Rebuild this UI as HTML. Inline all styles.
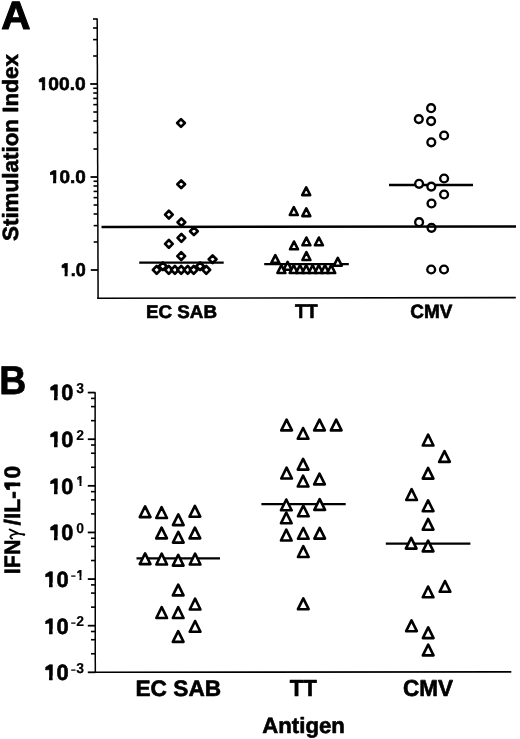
<!DOCTYPE html>
<html><head><meta charset="utf-8"><style>
html,body{margin:0;padding:0;background:#fff;}
body{width:520px;height:739px;overflow:hidden;}
svg{display:block;filter:grayscale(1);}
text{font-family:"Liberation Sans", sans-serif;font-weight:bold;fill:#000;stroke:#000;stroke-width:0.6px;stroke-linejoin:round;font-kerning:none;font-variant-ligatures:none;text-rendering:geometricPrecision;}
</style></head><body>
<svg width="520" height="739" viewBox="0 0 520 739">
<rect width="520" height="739" fill="#fff"/>
<line x1="97.20" y1="18.60" x2="98.10" y2="298.90" stroke="#000" stroke-width="1.5"/>
<line x1="97.30" y1="298.20" x2="515.80" y2="297.65" stroke="#000" stroke-width="1.6"/>
<line x1="90.81" y1="270.00" x2="98.01" y2="270.00" stroke="#000" stroke-width="1.8"/>
<line x1="93.72" y1="242.00" x2="97.92" y2="242.00" stroke="#000" stroke-width="1.6"/>
<line x1="93.67" y1="225.63" x2="97.87" y2="225.63" stroke="#000" stroke-width="1.6"/>
<line x1="93.63" y1="214.01" x2="97.83" y2="214.01" stroke="#000" stroke-width="1.6"/>
<line x1="93.60" y1="205.00" x2="97.80" y2="205.00" stroke="#000" stroke-width="1.6"/>
<line x1="93.58" y1="197.63" x2="97.78" y2="197.63" stroke="#000" stroke-width="1.6"/>
<line x1="93.56" y1="191.41" x2="97.76" y2="191.41" stroke="#000" stroke-width="1.6"/>
<line x1="93.54" y1="186.01" x2="97.74" y2="186.01" stroke="#000" stroke-width="1.6"/>
<line x1="93.52" y1="181.26" x2="97.72" y2="181.26" stroke="#000" stroke-width="1.6"/>
<line x1="90.51" y1="177.00" x2="97.71" y2="177.00" stroke="#000" stroke-width="1.8"/>
<line x1="93.42" y1="149.00" x2="97.62" y2="149.00" stroke="#000" stroke-width="1.6"/>
<line x1="93.37" y1="132.63" x2="97.57" y2="132.63" stroke="#000" stroke-width="1.6"/>
<line x1="93.33" y1="121.01" x2="97.53" y2="121.01" stroke="#000" stroke-width="1.6"/>
<line x1="93.30" y1="112.00" x2="97.50" y2="112.00" stroke="#000" stroke-width="1.6"/>
<line x1="93.28" y1="104.63" x2="97.48" y2="104.63" stroke="#000" stroke-width="1.6"/>
<line x1="93.26" y1="98.41" x2="97.46" y2="98.41" stroke="#000" stroke-width="1.6"/>
<line x1="93.24" y1="93.01" x2="97.44" y2="93.01" stroke="#000" stroke-width="1.6"/>
<line x1="93.23" y1="88.26" x2="97.43" y2="88.26" stroke="#000" stroke-width="1.6"/>
<line x1="90.21" y1="84.00" x2="97.41" y2="84.00" stroke="#000" stroke-width="1.8"/>
<line x1="93.12" y1="56.00" x2="97.32" y2="56.00" stroke="#000" stroke-width="1.6"/>
<line x1="93.07" y1="39.63" x2="97.27" y2="39.63" stroke="#000" stroke-width="1.6"/>
<line x1="93.03" y1="28.01" x2="97.23" y2="28.01" stroke="#000" stroke-width="1.6"/>
<line x1="93.00" y1="19.00" x2="97.20" y2="19.00" stroke="#000" stroke-width="1.6"/>
<g transform="matrix(1.0095 0 0 0.9590 37.689 90.422)"><text x="0" y="0" font-size="19" >100.0</text><path d="M-0.278 2.412H4.135V-3.896H-0.278Z M7.342 2.412H10.788V-3.896H7.342Z" fill="#fff"/><path d="M1.299 -8.897H4.546V-10.901Z" fill="#000" stroke="#000" stroke-width="0.6" stroke-linejoin="round"/></g>
<g transform="matrix(0.9942 0 0 0.9590 48.909 183.122)"><text x="0" y="0" font-size="19" >10.0</text><path d="M-0.278 2.412H4.135V-3.896H-0.278Z M7.342 2.412H10.788V-3.896H7.342Z" fill="#fff"/><path d="M1.299 -8.897H4.546V-10.901Z" fill="#000" stroke="#000" stroke-width="0.6" stroke-linejoin="round"/></g>
<g transform="matrix(0.9452 0 0 0.9738 60.672 276.319)"><text x="0" y="0" font-size="19" >1.0</text><path d="M-0.278 2.412H4.135V-3.896H-0.278Z M7.342 2.412H10.788V-3.896H7.342Z" fill="#fff"/><path d="M1.299 -8.897H4.546V-10.901Z" fill="#000" stroke="#000" stroke-width="0.6" stroke-linejoin="round"/></g>
<line x1="139.20" y1="262.60" x2="223.70" y2="262.60" stroke="#000" stroke-width="2.3"/>
<path d="M181.00 119.13 L184.87 123.00 L181.00 126.87 L177.13 123.00 Z" fill="#fff" stroke="#000" stroke-width="2.65" stroke-linejoin="round"/>
<path d="M181.20 180.33 L185.07 184.20 L181.20 188.07 L177.33 184.20 Z" fill="#fff" stroke="#000" stroke-width="2.65" stroke-linejoin="round"/>
<path d="M168.90 210.73 L172.77 214.60 L168.90 218.47 L165.03 214.60 Z" fill="#fff" stroke="#000" stroke-width="2.65" stroke-linejoin="round"/>
<path d="M181.40 218.43 L185.27 222.30 L181.40 226.17 L177.53 222.30 Z" fill="#fff" stroke="#000" stroke-width="2.65" stroke-linejoin="round"/>
<path d="M193.90 227.33 L197.77 231.20 L193.90 235.07 L190.03 231.20 Z" fill="#fff" stroke="#000" stroke-width="2.65" stroke-linejoin="round"/>
<path d="M181.40 234.03 L185.27 237.90 L181.40 241.77 L177.53 237.90 Z" fill="#fff" stroke="#000" stroke-width="2.65" stroke-linejoin="round"/>
<path d="M168.90 240.03 L172.77 243.90 L168.90 247.77 L165.03 243.90 Z" fill="#fff" stroke="#000" stroke-width="2.65" stroke-linejoin="round"/>
<path d="M181.20 252.23 L185.07 256.10 L181.20 259.97 L177.33 256.10 Z" fill="#fff" stroke="#000" stroke-width="2.65" stroke-linejoin="round"/>
<path d="M212.60 255.33 L216.47 259.20 L212.60 263.07 L208.73 259.20 Z" fill="#fff" stroke="#000" stroke-width="2.65" stroke-linejoin="round"/>
<path d="M162.80 262.33 L166.67 266.20 L162.80 270.07 L158.93 266.20 Z" fill="#fff" stroke="#000" stroke-width="2.65" stroke-linejoin="round"/>
<path d="M200.10 262.33 L203.97 266.20 L200.10 270.07 L196.23 266.20 Z" fill="#fff" stroke="#000" stroke-width="2.65" stroke-linejoin="round"/>
<path d="M156.70 266.03 L160.57 269.90 L156.70 273.77 L152.83 269.90 Z" fill="#fff" stroke="#000" stroke-width="2.65" stroke-linejoin="round"/>
<path d="M168.80 266.03 L172.67 269.90 L168.80 273.77 L164.93 269.90 Z" fill="#fff" stroke="#000" stroke-width="2.65" stroke-linejoin="round"/>
<path d="M174.90 266.03 L178.77 269.90 L174.90 273.77 L171.03 269.90 Z" fill="#fff" stroke="#000" stroke-width="2.65" stroke-linejoin="round"/>
<path d="M181.20 266.03 L185.07 269.90 L181.20 273.77 L177.33 269.90 Z" fill="#fff" stroke="#000" stroke-width="2.65" stroke-linejoin="round"/>
<path d="M187.70 266.03 L191.57 269.90 L187.70 273.77 L183.83 269.90 Z" fill="#fff" stroke="#000" stroke-width="2.65" stroke-linejoin="round"/>
<path d="M193.70 266.03 L197.57 269.90 L193.70 273.77 L189.83 269.90 Z" fill="#fff" stroke="#000" stroke-width="2.65" stroke-linejoin="round"/>
<path d="M206.30 266.03 L210.17 269.90 L206.30 273.77 L202.43 269.90 Z" fill="#fff" stroke="#000" stroke-width="2.65" stroke-linejoin="round"/>
<line x1="264.20" y1="264.20" x2="348.80" y2="264.20" stroke="#000" stroke-width="2.3"/>
<path d="M306.20 187.30 L310.20 195.10 L302.20 195.10 Z" fill="#fff" stroke="#000" stroke-width="2.6" stroke-linejoin="round"/>
<path d="M293.80 207.20 L297.80 215.00 L289.80 215.00 Z" fill="#fff" stroke="#000" stroke-width="2.6" stroke-linejoin="round"/>
<path d="M306.30 208.30 L310.30 216.10 L302.30 216.10 Z" fill="#fff" stroke="#000" stroke-width="2.6" stroke-linejoin="round"/>
<path d="M294.00 241.50 L298.00 249.30 L290.00 249.30 Z" fill="#fff" stroke="#000" stroke-width="2.6" stroke-linejoin="round"/>
<path d="M306.40 237.50 L310.40 245.30 L302.40 245.30 Z" fill="#fff" stroke="#000" stroke-width="2.6" stroke-linejoin="round"/>
<path d="M318.90 237.50 L322.90 245.30 L314.90 245.30 Z" fill="#fff" stroke="#000" stroke-width="2.6" stroke-linejoin="round"/>
<path d="M306.40 252.20 L310.40 260.00 L302.40 260.00 Z" fill="#fff" stroke="#000" stroke-width="2.6" stroke-linejoin="round"/>
<path d="M275.30 255.10 L279.30 262.90 L271.30 262.90 Z" fill="#fff" stroke="#000" stroke-width="2.6" stroke-linejoin="round"/>
<path d="M337.80 257.90 L341.80 265.70 L333.80 265.70 Z" fill="#fff" stroke="#000" stroke-width="2.6" stroke-linejoin="round"/>
<path d="M287.60 261.90 L291.60 269.70 L283.60 269.70 Z" fill="#fff" stroke="#000" stroke-width="2.6" stroke-linejoin="round"/>
<path d="M281.40 265.20 L285.40 273.00 L277.40 273.00 Z" fill="#fff" stroke="#000" stroke-width="2.6" stroke-linejoin="round"/>
<path d="M293.70 265.20 L297.70 273.00 L289.70 273.00 Z" fill="#fff" stroke="#000" stroke-width="2.6" stroke-linejoin="round"/>
<path d="M300.00 265.20 L304.00 273.00 L296.00 273.00 Z" fill="#fff" stroke="#000" stroke-width="2.6" stroke-linejoin="round"/>
<path d="M306.20 265.20 L310.20 273.00 L302.20 273.00 Z" fill="#fff" stroke="#000" stroke-width="2.6" stroke-linejoin="round"/>
<path d="M312.60 265.20 L316.60 273.00 L308.60 273.00 Z" fill="#fff" stroke="#000" stroke-width="2.6" stroke-linejoin="round"/>
<path d="M318.80 265.20 L322.80 273.00 L314.80 273.00 Z" fill="#fff" stroke="#000" stroke-width="2.6" stroke-linejoin="round"/>
<path d="M325.00 265.20 L329.00 273.00 L321.00 273.00 Z" fill="#fff" stroke="#000" stroke-width="2.6" stroke-linejoin="round"/>
<path d="M331.20 265.20 L335.20 273.00 L327.20 273.00 Z" fill="#fff" stroke="#000" stroke-width="2.6" stroke-linejoin="round"/>
<line x1="389.00" y1="185.00" x2="473.00" y2="185.00" stroke="#000" stroke-width="2.3"/>
<circle cx="431.10" cy="108.20" r="3.90" fill="#fff" stroke="#000" stroke-width="2.40"/>
<circle cx="418.80" cy="119.10" r="3.90" fill="#fff" stroke="#000" stroke-width="2.40"/>
<circle cx="431.10" cy="121.10" r="3.90" fill="#fff" stroke="#000" stroke-width="2.40"/>
<circle cx="444.10" cy="135.50" r="3.90" fill="#fff" stroke="#000" stroke-width="2.40"/>
<circle cx="431.30" cy="142.30" r="3.90" fill="#fff" stroke="#000" stroke-width="2.40"/>
<circle cx="444.10" cy="178.50" r="3.90" fill="#fff" stroke="#000" stroke-width="2.40"/>
<circle cx="419.10" cy="183.80" r="3.90" fill="#fff" stroke="#000" stroke-width="2.40"/>
<circle cx="431.30" cy="186.60" r="3.90" fill="#fff" stroke="#000" stroke-width="2.40"/>
<circle cx="444.10" cy="194.50" r="3.90" fill="#fff" stroke="#000" stroke-width="2.40"/>
<circle cx="431.50" cy="203.50" r="3.90" fill="#fff" stroke="#000" stroke-width="2.40"/>
<circle cx="419.10" cy="222.20" r="3.90" fill="#fff" stroke="#000" stroke-width="2.40"/>
<circle cx="431.50" cy="227.80" r="3.90" fill="#fff" stroke="#000" stroke-width="2.40"/>
<circle cx="431.20" cy="269.50" r="3.90" fill="#fff" stroke="#000" stroke-width="2.40"/>
<circle cx="444.00" cy="269.50" r="3.90" fill="#fff" stroke="#000" stroke-width="2.40"/>
<line x1="101.50" y1="226.95" x2="516.00" y2="226.45" stroke="#000" stroke-width="2.4"/>
<g transform="matrix(1.0456 0 0 1.0201 145.941 317.821)"><text x="0" y="0" font-size="18" >EC SAB</text></g>
<g transform="matrix(1.0373 0 0 1.0821 294.890 318.200)"><text x="0" y="0" font-size="18" >TT</text></g>
<g transform="matrix(1.0527 0 0 1.0672 410.323 317.912)"><text x="0" y="0" font-size="18" >CMV</text></g>
<g transform="matrix(1.0136 0 0 0.9884 1.240 28.650)"><text x="0" y="0" font-size="40"  style="stroke-width:1.1px">A</text></g>
<g transform="translate(18.450 241.046) rotate(-90) scale(1.0194 1.0009)"><text x="0" y="0" font-size="22">Stimulation Index</text></g>
<line x1="95.10" y1="392.19" x2="95.30" y2="672.81" stroke="#000" stroke-width="1.5"/>
<line x1="94.60" y1="672.31" x2="511.30" y2="671.91" stroke="#000" stroke-width="1.6"/>
<line x1="87.80" y1="672.31" x2="95.20" y2="672.31" stroke="#000" stroke-width="1.8"/>
<line x1="91.00" y1="653.76" x2="95.20" y2="653.76" stroke="#000" stroke-width="1.6"/>
<line x1="91.00" y1="639.72" x2="95.20" y2="639.72" stroke="#000" stroke-width="1.6"/>
<line x1="91.00" y1="631.51" x2="95.20" y2="631.51" stroke="#000" stroke-width="1.6"/>
<line x1="87.80" y1="625.69" x2="95.20" y2="625.69" stroke="#000" stroke-width="1.8"/>
<line x1="91.00" y1="607.14" x2="95.20" y2="607.14" stroke="#000" stroke-width="1.6"/>
<line x1="91.00" y1="593.10" x2="95.20" y2="593.10" stroke="#000" stroke-width="1.6"/>
<line x1="91.00" y1="584.89" x2="95.20" y2="584.89" stroke="#000" stroke-width="1.6"/>
<line x1="87.80" y1="579.07" x2="95.20" y2="579.07" stroke="#000" stroke-width="1.8"/>
<line x1="91.00" y1="560.52" x2="95.20" y2="560.52" stroke="#000" stroke-width="1.6"/>
<line x1="91.00" y1="546.48" x2="95.20" y2="546.48" stroke="#000" stroke-width="1.6"/>
<line x1="91.00" y1="538.27" x2="95.20" y2="538.27" stroke="#000" stroke-width="1.6"/>
<line x1="87.80" y1="532.45" x2="95.20" y2="532.45" stroke="#000" stroke-width="1.8"/>
<line x1="91.00" y1="513.90" x2="95.20" y2="513.90" stroke="#000" stroke-width="1.6"/>
<line x1="91.00" y1="499.86" x2="95.20" y2="499.86" stroke="#000" stroke-width="1.6"/>
<line x1="91.00" y1="491.65" x2="95.20" y2="491.65" stroke="#000" stroke-width="1.6"/>
<line x1="87.80" y1="485.83" x2="95.20" y2="485.83" stroke="#000" stroke-width="1.8"/>
<line x1="91.00" y1="467.28" x2="95.20" y2="467.28" stroke="#000" stroke-width="1.6"/>
<line x1="91.00" y1="453.24" x2="95.20" y2="453.24" stroke="#000" stroke-width="1.6"/>
<line x1="91.00" y1="445.03" x2="95.20" y2="445.03" stroke="#000" stroke-width="1.6"/>
<line x1="87.80" y1="439.21" x2="95.20" y2="439.21" stroke="#000" stroke-width="1.8"/>
<line x1="91.00" y1="420.66" x2="95.20" y2="420.66" stroke="#000" stroke-width="1.6"/>
<line x1="91.00" y1="406.62" x2="95.20" y2="406.62" stroke="#000" stroke-width="1.6"/>
<line x1="91.00" y1="398.41" x2="95.20" y2="398.41" stroke="#000" stroke-width="1.6"/>
<line x1="87.80" y1="392.59" x2="95.20" y2="392.59" stroke="#000" stroke-width="1.8"/>
<g transform="matrix(0.9971 0 0 1.0015 44.200 680.145)"><text x="0" y="0" font-size="22" >10</text><path d="M-0.322 2.793H4.835V-4.512H-0.322Z M8.453 2.793H12.373V-4.512H8.453Z" fill="#fff"/><path d="M1.504 -10.302H5.264V-12.622Z" fill="#000" stroke="#000" stroke-width="0.6" stroke-linejoin="round"/></g>
<g transform="matrix(1.0000 0 0 1.0278 76.246 672.760)"><text x="0" y="0" font-size="14" style="stroke-width:0.15px">3</text></g>
<g transform="matrix(1.0127 0 0 0.5396 70.946 671.519)"><text x="0" y="0" font-size="14" >-</text></g>
<g transform="matrix(0.9971 0 0 1.0015 44.200 633.525)"><text x="0" y="0" font-size="22" >10</text><path d="M-0.322 2.793H4.835V-4.512H-0.322Z M8.453 2.793H12.373V-4.512H8.453Z" fill="#fff"/><path d="M1.504 -10.302H5.264V-12.622Z" fill="#000" stroke="#000" stroke-width="0.6" stroke-linejoin="round"/></g>
<g transform="matrix(1.0000 0 0 1.0278 76.246 626.140)"><text x="0" y="0" font-size="14" style="stroke-width:0.15px">2</text></g>
<g transform="matrix(1.0127 0 0 0.5396 70.946 624.899)"><text x="0" y="0" font-size="14" >-</text></g>
<g transform="matrix(0.9971 0 0 1.0015 44.200 586.905)"><text x="0" y="0" font-size="22" >10</text><path d="M-0.322 2.793H4.835V-4.512H-0.322Z M8.453 2.793H12.373V-4.512H8.453Z" fill="#fff"/><path d="M1.504 -10.302H5.264V-12.622Z" fill="#000" stroke="#000" stroke-width="0.6" stroke-linejoin="round"/></g>
<g transform="matrix(1.0000 0 0 1.0278 76.246 579.520)"><text x="0" y="0" font-size="14" style="stroke-width:0.15px">1</text><path d="M-0.205 1.777H3.193V-2.871H-0.205Z M5.263 1.777H7.921V-2.871H5.263Z" fill="#fff"/><path d="M0.957 -6.556H3.350V-8.032Z" fill="#000" stroke="#000" stroke-width="0.15" stroke-linejoin="round"/></g>
<g transform="matrix(1.0127 0 0 0.5396 70.946 578.279)"><text x="0" y="0" font-size="14" >-</text></g>
<g transform="matrix(0.9880 0 0 1.0015 49.214 540.285)"><text x="0" y="0" font-size="22" >10</text><path d="M-0.322 2.793H4.835V-4.512H-0.322Z M8.453 2.793H12.373V-4.512H8.453Z" fill="#fff"/><path d="M1.504 -10.302H5.264V-12.622Z" fill="#000" stroke="#000" stroke-width="0.6" stroke-linejoin="round"/></g>
<g transform="matrix(1.0000 0 0 1.0278 76.246 532.900)"><text x="0" y="0" font-size="14" style="stroke-width:0.15px">0</text></g>
<g transform="matrix(0.9880 0 0 1.0015 49.214 493.665)"><text x="0" y="0" font-size="22" >10</text><path d="M-0.322 2.793H4.835V-4.512H-0.322Z M8.453 2.793H12.373V-4.512H8.453Z" fill="#fff"/><path d="M1.504 -10.302H5.264V-12.622Z" fill="#000" stroke="#000" stroke-width="0.6" stroke-linejoin="round"/></g>
<g transform="matrix(1.0000 0 0 1.0278 76.246 486.280)"><text x="0" y="0" font-size="14" style="stroke-width:0.15px">1</text><path d="M-0.205 1.777H3.193V-2.871H-0.205Z M5.263 1.777H7.921V-2.871H5.263Z" fill="#fff"/><path d="M0.957 -6.556H3.350V-8.032Z" fill="#000" stroke="#000" stroke-width="0.15" stroke-linejoin="round"/></g>
<g transform="matrix(0.9880 0 0 1.0015 49.214 447.045)"><text x="0" y="0" font-size="22" >10</text><path d="M-0.322 2.793H4.835V-4.512H-0.322Z M8.453 2.793H12.373V-4.512H8.453Z" fill="#fff"/><path d="M1.504 -10.302H5.264V-12.622Z" fill="#000" stroke="#000" stroke-width="0.6" stroke-linejoin="round"/></g>
<g transform="matrix(1.0000 0 0 1.0278 76.246 439.660)"><text x="0" y="0" font-size="14" style="stroke-width:0.15px">2</text></g>
<g transform="matrix(0.9880 0 0 1.0015 49.214 400.425)"><text x="0" y="0" font-size="22" >10</text><path d="M-0.322 2.793H4.835V-4.512H-0.322Z M8.453 2.793H12.373V-4.512H8.453Z" fill="#fff"/><path d="M1.504 -10.302H5.264V-12.622Z" fill="#000" stroke="#000" stroke-width="0.6" stroke-linejoin="round"/></g>
<g transform="matrix(1.0000 0 0 1.0278 76.246 393.040)"><text x="0" y="0" font-size="14" style="stroke-width:0.15px">3</text></g>
<line x1="136.50" y1="558.40" x2="220.00" y2="558.40" stroke="#000" stroke-width="2.3"/>
<path d="M145.10 506.30 L150.45 517.10 L139.75 517.10 Z" fill="#fff" stroke="#000" stroke-width="2.6" stroke-linejoin="round"/>
<path d="M161.60 507.20 L166.95 518.00 L156.25 518.00 Z" fill="#fff" stroke="#000" stroke-width="2.6" stroke-linejoin="round"/>
<path d="M194.90 505.90 L200.25 516.70 L189.55 516.70 Z" fill="#fff" stroke="#000" stroke-width="2.6" stroke-linejoin="round"/>
<path d="M178.30 514.30 L183.65 525.10 L172.95 525.10 Z" fill="#fff" stroke="#000" stroke-width="2.6" stroke-linejoin="round"/>
<path d="M161.60 527.60 L166.95 538.40 L156.25 538.40 Z" fill="#fff" stroke="#000" stroke-width="2.6" stroke-linejoin="round"/>
<path d="M178.30 531.80 L183.65 542.60 L172.95 542.60 Z" fill="#fff" stroke="#000" stroke-width="2.6" stroke-linejoin="round"/>
<path d="M194.90 527.60 L200.25 538.40 L189.55 538.40 Z" fill="#fff" stroke="#000" stroke-width="2.6" stroke-linejoin="round"/>
<path d="M145.10 553.30 L150.45 564.10 L139.75 564.10 Z" fill="#fff" stroke="#000" stroke-width="2.6" stroke-linejoin="round"/>
<path d="M161.70 553.70 L167.05 564.50 L156.35 564.50 Z" fill="#fff" stroke="#000" stroke-width="2.6" stroke-linejoin="round"/>
<path d="M178.20 554.80 L183.55 565.60 L172.85 565.60 Z" fill="#fff" stroke="#000" stroke-width="2.6" stroke-linejoin="round"/>
<path d="M195.10 553.70 L200.45 564.50 L189.75 564.50 Z" fill="#fff" stroke="#000" stroke-width="2.6" stroke-linejoin="round"/>
<path d="M178.20 584.60 L183.55 595.40 L172.85 595.40 Z" fill="#fff" stroke="#000" stroke-width="2.6" stroke-linejoin="round"/>
<path d="M195.10 598.70 L200.45 609.50 L189.75 609.50 Z" fill="#fff" stroke="#000" stroke-width="2.6" stroke-linejoin="round"/>
<path d="M161.70 607.20 L167.05 618.00 L156.35 618.00 Z" fill="#fff" stroke="#000" stroke-width="2.6" stroke-linejoin="round"/>
<path d="M178.20 607.20 L183.55 618.00 L172.85 618.00 Z" fill="#fff" stroke="#000" stroke-width="2.6" stroke-linejoin="round"/>
<path d="M195.10 621.00 L200.45 631.80 L189.75 631.80 Z" fill="#fff" stroke="#000" stroke-width="2.6" stroke-linejoin="round"/>
<path d="M178.20 631.10 L183.55 641.90 L172.85 641.90 Z" fill="#fff" stroke="#000" stroke-width="2.6" stroke-linejoin="round"/>
<line x1="261.40" y1="504.20" x2="345.70" y2="504.20" stroke="#000" stroke-width="2.3"/>
<path d="M286.60 419.60 L291.95 430.40 L281.25 430.40 Z" fill="#fff" stroke="#000" stroke-width="2.6" stroke-linejoin="round"/>
<path d="M303.10 428.00 L308.45 438.80 L297.75 438.80 Z" fill="#fff" stroke="#000" stroke-width="2.6" stroke-linejoin="round"/>
<path d="M319.50 419.60 L324.85 430.40 L314.15 430.40 Z" fill="#fff" stroke="#000" stroke-width="2.6" stroke-linejoin="round"/>
<path d="M336.20 419.60 L341.55 430.40 L330.85 430.40 Z" fill="#fff" stroke="#000" stroke-width="2.6" stroke-linejoin="round"/>
<path d="M303.10 458.80 L308.45 469.60 L297.75 469.60 Z" fill="#fff" stroke="#000" stroke-width="2.6" stroke-linejoin="round"/>
<path d="M286.60 467.70 L291.95 478.50 L281.25 478.50 Z" fill="#fff" stroke="#000" stroke-width="2.6" stroke-linejoin="round"/>
<path d="M303.10 475.70 L308.45 486.50 L297.75 486.50 Z" fill="#fff" stroke="#000" stroke-width="2.6" stroke-linejoin="round"/>
<path d="M319.50 473.60 L324.85 484.40 L314.15 484.40 Z" fill="#fff" stroke="#000" stroke-width="2.6" stroke-linejoin="round"/>
<path d="M286.30 499.50 L291.65 510.30 L280.95 510.30 Z" fill="#fff" stroke="#000" stroke-width="2.6" stroke-linejoin="round"/>
<path d="M303.30 505.50 L308.65 516.30 L297.95 516.30 Z" fill="#fff" stroke="#000" stroke-width="2.6" stroke-linejoin="round"/>
<path d="M319.70 499.10 L325.05 509.90 L314.35 509.90 Z" fill="#fff" stroke="#000" stroke-width="2.6" stroke-linejoin="round"/>
<path d="M286.30 512.50 L291.65 523.30 L280.95 523.30 Z" fill="#fff" stroke="#000" stroke-width="2.6" stroke-linejoin="round"/>
<path d="M286.30 529.70 L291.65 540.50 L280.95 540.50 Z" fill="#fff" stroke="#000" stroke-width="2.6" stroke-linejoin="round"/>
<path d="M303.30 528.00 L308.65 538.80 L297.95 538.80 Z" fill="#fff" stroke="#000" stroke-width="2.6" stroke-linejoin="round"/>
<path d="M319.70 527.80 L325.05 538.60 L314.35 538.60 Z" fill="#fff" stroke="#000" stroke-width="2.6" stroke-linejoin="round"/>
<path d="M303.30 546.20 L308.65 557.00 L297.95 557.00 Z" fill="#fff" stroke="#000" stroke-width="2.6" stroke-linejoin="round"/>
<path d="M303.30 598.40 L308.65 609.20 L297.95 609.20 Z" fill="#fff" stroke="#000" stroke-width="2.6" stroke-linejoin="round"/>
<line x1="385.80" y1="543.70" x2="470.40" y2="543.70" stroke="#000" stroke-width="2.3"/>
<path d="M428.10 434.70 L433.45 445.50 L422.75 445.50 Z" fill="#fff" stroke="#000" stroke-width="2.6" stroke-linejoin="round"/>
<path d="M444.50 451.10 L449.85 461.90 L439.15 461.90 Z" fill="#fff" stroke="#000" stroke-width="2.6" stroke-linejoin="round"/>
<path d="M428.10 467.80 L433.45 478.60 L422.75 478.60 Z" fill="#fff" stroke="#000" stroke-width="2.6" stroke-linejoin="round"/>
<path d="M411.60 489.20 L416.95 500.00 L406.25 500.00 Z" fill="#fff" stroke="#000" stroke-width="2.6" stroke-linejoin="round"/>
<path d="M428.10 500.40 L433.45 511.20 L422.75 511.20 Z" fill="#fff" stroke="#000" stroke-width="2.6" stroke-linejoin="round"/>
<path d="M428.10 518.90 L433.45 529.70 L422.75 529.70 Z" fill="#fff" stroke="#000" stroke-width="2.6" stroke-linejoin="round"/>
<path d="M411.20 537.80 L416.55 548.60 L405.85 548.60 Z" fill="#fff" stroke="#000" stroke-width="2.6" stroke-linejoin="round"/>
<path d="M428.10 540.60 L433.45 551.40 L422.75 551.40 Z" fill="#fff" stroke="#000" stroke-width="2.6" stroke-linejoin="round"/>
<path d="M445.00 581.00 L450.35 591.80 L439.65 591.80 Z" fill="#fff" stroke="#000" stroke-width="2.6" stroke-linejoin="round"/>
<path d="M428.10 586.50 L433.45 597.30 L422.75 597.30 Z" fill="#fff" stroke="#000" stroke-width="2.6" stroke-linejoin="round"/>
<path d="M411.50 620.40 L416.85 631.20 L406.15 631.20 Z" fill="#fff" stroke="#000" stroke-width="2.6" stroke-linejoin="round"/>
<path d="M428.20 627.30 L433.55 638.10 L422.85 638.10 Z" fill="#fff" stroke="#000" stroke-width="2.6" stroke-linejoin="round"/>
<path d="M428.20 644.60 L433.55 655.40 L422.85 655.40 Z" fill="#fff" stroke="#000" stroke-width="2.6" stroke-linejoin="round"/>
<g transform="matrix(1.0303 0 0 1.0144 135.484 695.682)"><text x="0" y="0" font-size="22" >EC SAB</text></g>
<g transform="matrix(1.0078 0 0 1.0505 289.651 696.000)"><text x="0" y="0" font-size="22" >TT</text></g>
<g transform="matrix(1.0244 0 0 1.0465 402.876 695.975)"><text x="0" y="0" font-size="22" >CMV</text></g>
<g transform="matrix(1.0092 0 0 0.9998 262.247 732.539)"><text x="0" y="0" font-size="22" >Antigen</text></g>
<g transform="matrix(0.9346 0 0 1.0029 -0.701 394.200)"><text x="0" y="0" font-size="40"  style="stroke-width:0.8px">B</text></g>
<g transform="translate(20.000 574.132) rotate(-90) scale(0.9305 0.9732)"><text x="0" y="0" font-size="23">IFN</text></g>
<g transform="translate(20.000 525.423) rotate(-90) scale(0.9931 0.9732)"><text x="0" y="0" font-size="23">/IL-10</text><path d="M34.152 2.920H39.557V-4.717H34.152Z M43.313 2.920H47.390V-4.717H43.313Z" fill="#fff"/><path d="M36.061 -10.770H39.992V-13.196Z" fill="#000" stroke="#000" stroke-width="0.6" stroke-linejoin="round"/></g>
<path d="M9.6 529.4 C12 530.5 16 532.5 18.5 533.6 L24.3 534.7 M18.5 533.6 C15.5 534.0 12.5 534.3 11.0 535.6 C9.8 536.8 10.5 538.2 12.2 538.6" fill="none" stroke="#000" stroke-width="1.85" stroke-linecap="round"/>
<ellipse cx="23.8" cy="534.6" rx="1.4" ry="1.1" fill="#000"/>
</svg>
</body></html>
